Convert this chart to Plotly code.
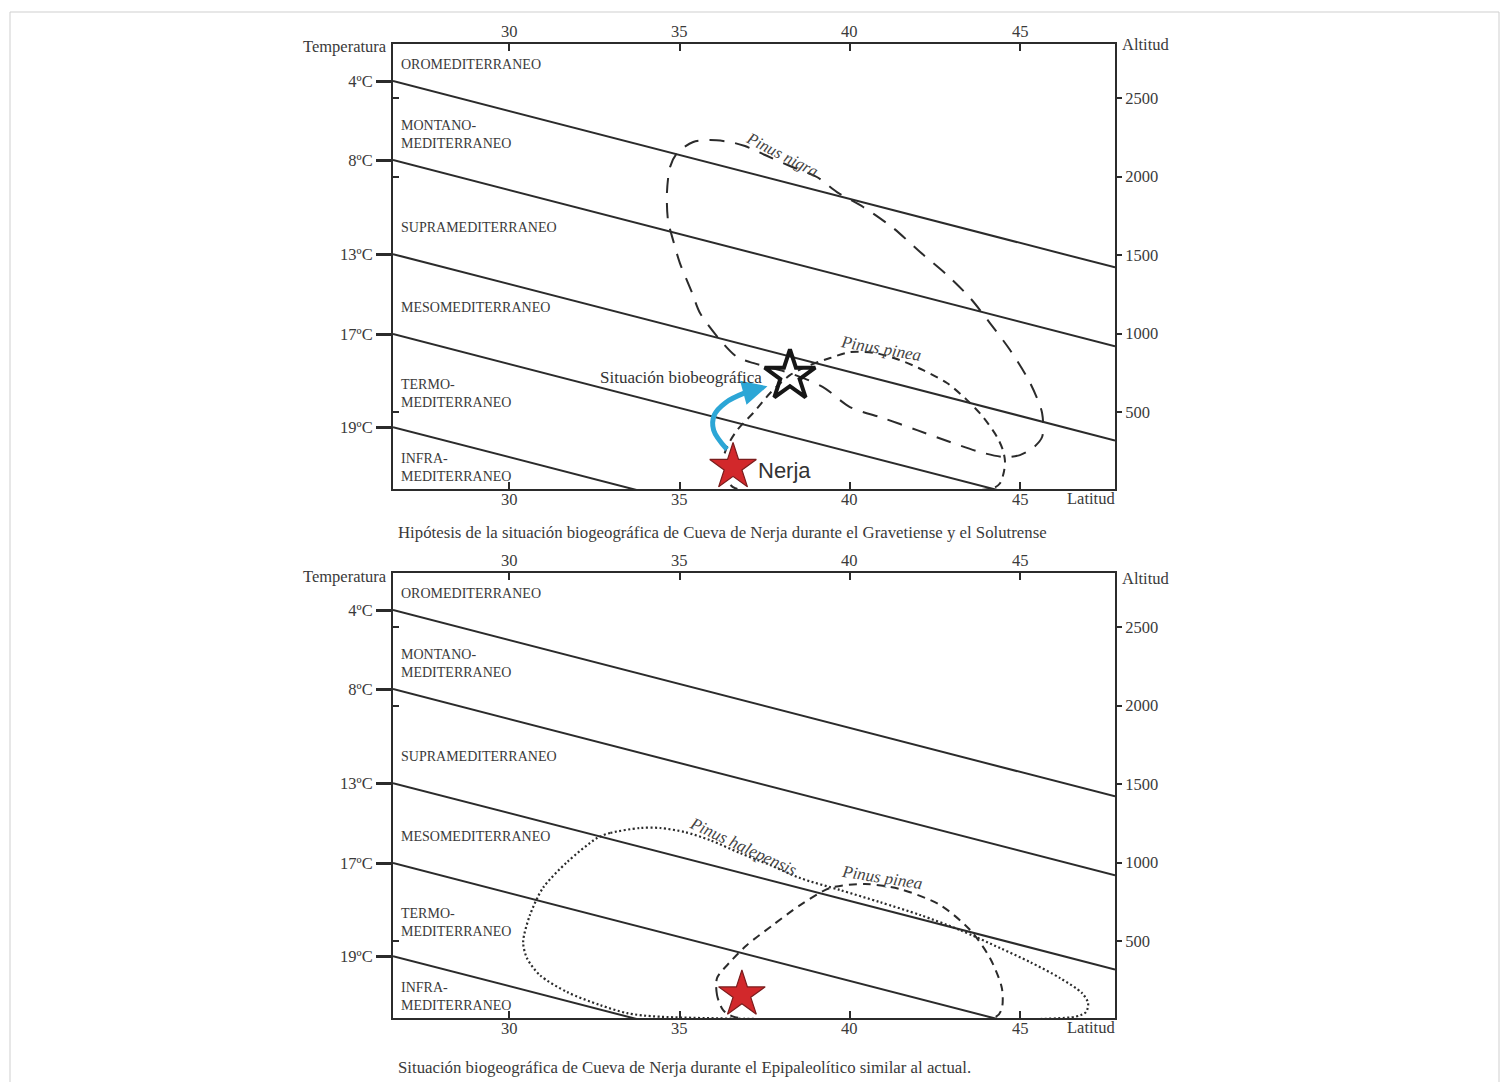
import plotly.graph_objects as go

# ---------------- data ----------------
temp_labels = ["4ºC", "8ºC", "13ºC", "17ºC", "19ºC"]
boundary_alt_west = [2608, 2105, 1506, 997, 404]   # m, altitude of each boundary at the west edge
lapse_m_per_deg = 56.0                               # boundaries drop this much per degree of latitude
lat_range = [26.59, 47.78]
alt_range = [10, 2844]
lat_ticks = [30, 35, 40, 45]
alt_ticks = [500, 1000, 1500, 2000, 2500]
alt_minor_left = [500, 2000, 2500]

belt_names = ["OROMEDITERRANEO", "MONTANO-<br>MEDITERRANEO", "SUPRAMEDITERRANEO",
              "MESOMEDITERRANEO", "TERMO-<br>MEDITERRANEO", "INFRA-<br>MEDITERRANEO"]
belt_label_alt = [2716, 2270, 1678, 1169, 621, 150]

# Panel 1: Pinus nigra (long dashes)
nigra_lat = [34.66, 34.63, 34.72, 34.93, 35.40, 35.89, 36.48, 36.92, 37.51, 38.24, 39.03, 39.62,
             40.39, 41.27, 42.06, 42.85, 43.53, 44.11, 44.70, 45.29, 45.64, 45.64, 45.37, 44.99,
             44.55, 43.82, 42.94, 41.97, 40.97, 40.00, 39.21, 38.24, 37.07, 36.69, 36.19, 35.60,
             35.37, 35.01, 34.81, 34.66]
nigra_alt = [1723, 1895, 2060, 2150, 2220, 2232, 2220, 2194, 2137, 2067, 1997, 1901,
             1806, 1672, 1519, 1373, 1226, 1067, 895, 685, 494, 341, 271, 226,
             213, 245, 309, 385, 462, 532, 659, 748, 818, 850, 959, 1131,
             1258, 1449, 1595, 1723]

# Panel 1: Pinus pinea (short dashes)
pinea1_lat = [37.66, 37.16, 36.69, 36.39, 36.25, 36.39, 36.63, 44.20, 44.40, 44.52, 44.55, 44.49,
              44.32, 43.91, 43.44, 42.85, 42.15, 41.47, 40.74, 40.00, 39.42, 38.83, 38.24, 37.66]
pinea1_alt = [621, 494, 385, 277, 162, 67, 15, 15, 45, 120, 190, 258,
              341, 468, 576, 685, 767, 831, 876, 882, 844, 799, 735, 621]

# Panel 2: Pinus halepensis (dotted)
halep_lat = [33.84, 32.96, 32.58, 31.70, 30.99, 30.61, 30.41, 30.52, 30.90, 31.70, 32.67, 33.46,
             34.43, 46.61, 46.93, 46.99, 46.81, 46.17, 45.29, 44.41, 43.23, 42.06, 40.88, 39.71,
             38.54, 37.66, 36.78, 35.89, 35.16, 34.43, 33.84]
halep_alt = [1220, 1188, 1156, 1003, 838, 666, 494, 392, 283, 175, 92, 41,
             18, 18, 48, 105, 169, 264, 366, 455, 570, 666, 748, 825,
             901, 984, 1060, 1143, 1194, 1220, 1220]

# Panel 2: Pinus pinea (short dashes)
pinea2_lat = [36.28, 36.10, 36.10, 36.48, 36.98, 37.74, 38.54, 39.42, 40.44, 41.47, 42.65, 43.53,
              44.11, 44.46, 44.46, 44.29, 36.63, 36.28]
pinea2_alt = [60, 156, 264, 366, 475, 602, 729, 838, 863, 831, 729, 570,
              392, 200, 73, 18, 15, 60]

nerja1 = (36.57, 150)          # red star, panel 1
bio_star = (38.24, 730)        # hollow star, panel 1
nerja2 = (36.83, 160)          # red star, panel 2
arrow_lat = [36.39, 36.00, 36.02, 36.35, 36.95, 37.20]
arrow_alt = [262, 385, 481, 560, 625, 642]
arrow_tip = (37.58, 664)

captions = ["Hipótesis de la situación biogeográfica de Cueva de Nerja durante el Gravetiense y el Solutrense",
            "Situación biogeográfica de Cueva de Nerja durante el Epipaleolítico similar al actual."]

# ---------------- layout helpers ----------------
W, H, OFF = 1506, 1082, 0
def px(X):
    return (X - OFF) / W
def py(Y):
    return 1 - (Y - OFF) / H

SERIF = "Liberation Serif, Times New Roman, serif"
SANS = "Liberation Sans, Arial, sans-serif"
INK = "#2b2b2b"
TXT = "#3a3a3a"
FS = 16.5

fig = go.Figure()
annotations = []
panels = [
    dict(top=44, bottom=489, ids=["x", "x2", "y", "y2"], ax=["xaxis", "xaxis2", "yaxis", "yaxis2"]),
    dict(top=573, bottom=1018, ids=["x3", "x4", "y3", "y4"], ax=["xaxis3", "xaxis4", "yaxis3", "yaxis4"]),
]

axis_common = dict(showgrid=False, zeroline=False, showline=True, linecolor=INK, linewidth=2,
                   tickfont=dict(family=SERIF, size=FS, color=TXT), tickcolor=INK)

for pi, p in enumerate(panels):
    xd = [px(393), px(1115)]
    yd = [py(p["bottom"]), py(p["top"])]
    xid, x2id, yid, y2id = p["ids"]
    xa, x2a, ya, y2a = p["ax"]
    fig.layout[xa] = dict(domain=xd, range=lat_range, anchor=yid, side="bottom",
                          tickmode="array", tickvals=lat_ticks, ticks="inside", ticklen=7, tickwidth=2,
                          showticklabels=False, **axis_common)
    fig.layout[x2a] = dict(domain=xd, range=lat_range, anchor=yid, side="top", overlaying=xid,
                           tickmode="array", tickvals=lat_ticks, ticks="inside", ticklen=7, tickwidth=2,
                           showticklabels=False, **axis_common)
    fig.layout[ya] = dict(domain=yd, range=alt_range, anchor=xid, side="left",
                          tickmode="array", tickvals=boundary_alt_west, ticktext=temp_labels,
                          ticks="outside", ticklen=15, tickwidth=3,
                          minor=dict(tickmode="array", tickvals=alt_minor_left, ticks="inside",
                                     ticklen=6, tickwidth=1.5, tickcolor=INK),
                          **axis_common)
    fig.layout[y2a] = dict(domain=yd, range=alt_range, anchor=xid, side="right", overlaying=yid,
                           tickmode="array", tickvals=alt_ticks, ticks="outside", ticklen=5, tickwidth=1.5,
                           **axis_common)

    # invisible traces so that the overlay axes get drawn
    fig.add_trace(go.Scatter(x=lat_range, y=alt_range, xaxis=x2id, yaxis=yid, mode="markers",
                             marker=dict(opacity=0), hoverinfo="skip", showlegend=False))
    fig.add_trace(go.Scatter(x=lat_range, y=alt_range, xaxis=xid, yaxis=y2id, mode="markers",
                             marker=dict(opacity=0), hoverinfo="skip", showlegend=False))

    xref, yref = xid, yid
    # latitude tick labels (bottom, right under the axis, and top)
    for lt in lat_ticks:
        annotations.append(dict(x=lt, y=0, xref=xref, yref=f"{yid} domain", text=str(lt), showarrow=False,
                                xanchor="center", yanchor="top", yshift=1,
                                font=dict(family=SERIF, size=FS, color=TXT)))
        annotations.append(dict(x=lt, y=1, xref=xref, yref=f"{yid} domain", text=str(lt), showarrow=False,
                                xanchor="center", yanchor="bottom", yshift=1,
                                font=dict(family=SERIF, size=FS, color=TXT)))
    # belt boundaries
    for a0 in boundary_alt_west:
        lats = [lat_range[0], lat_range[1]]
        alts = [a0 - lapse_m_per_deg * (l - lat_range[0]) for l in lats]
        fig.add_trace(go.Scatter(x=lats, y=alts, mode="lines", xaxis=xref, yaxis=yref,
                                 line=dict(color=INK, width=2), hoverinfo="skip", showlegend=False))
    # belt labels
    for name, a in zip(belt_names, belt_label_alt):
        annotations.append(dict(x=lat_range[0], y=a, xref=xref, yref=yref, text=name, showarrow=False,
                                xanchor="left", yanchor="middle", align="left", xshift=6,
                                font=dict(family=SERIF, size=14, color=TXT)))
    # axis titles
    t, b = p["top"], p["bottom"]
    annotations.append(dict(x=px(389), y=py(t + 3), xref="paper", yref="paper", text="Temperatura",
                            showarrow=False, xanchor="right", yanchor="middle",
                            font=dict(family=SERIF, size=FS, color=TXT)))
    annotations.append(dict(x=px(1120), y=py(t + 1 + (4 if pi else 0)), xref="paper", yref="paper", text="Altitud",
                            showarrow=False, xanchor="left", yanchor="middle",
                            font=dict(family=SERIF, size=FS, color=TXT)))
    annotations.append(dict(x=px(1117), y=py(b + 9), xref="paper", yref="paper", text="Latitud",
                            showarrow=False, xanchor="right", yanchor="middle",
                            font=dict(family=SERIF, size=FS, color=TXT)))
    annotations.append(dict(x=px(396), y=py(b + 43 if pi == 0 else b + 49), xref="paper", yref="paper",
                            text=captions[pi], showarrow=False, xanchor="left", yanchor="middle",
                            font=dict(family=SERIF, size=16.8, color=TXT)))

# ----- panel 1 content -----
fig.add_trace(go.Scatter(x=nigra_lat, y=nigra_alt, mode="lines", xaxis="x", yaxis="y",
                         line=dict(color=INK, width=2, dash="15px,11px", shape="spline", smoothing=0.8),
                         hoverinfo="skip", showlegend=False))
fig.add_trace(go.Scatter(x=pinea1_lat, y=pinea1_alt, mode="lines", xaxis="x", yaxis="y",
                         line=dict(color=INK, width=2, dash="8px,6px", shape="spline", smoothing=0.8),
                         hoverinfo="skip", showlegend=False))
fig.add_trace(go.Scatter(x=arrow_lat, y=arrow_alt, mode="lines", xaxis="x", yaxis="y",
                         line=dict(color="#2ca6d6", width=5, shape="spline", smoothing=1.0),
                         hoverinfo="skip", showlegend=False))
annotations.append(dict(x=arrow_tip[0], y=arrow_tip[1], ax=arrow_lat[-1], ay=arrow_alt[-1],
                        xref="x", yref="y", axref="x", ayref="y", text="", showarrow=True,
                        arrowhead=2, arrowsize=1.0, arrowwidth=5, arrowcolor="#2ca6d6"))
fig.add_trace(go.Scatter(x=[bio_star[0]], y=[bio_star[1]], mode="markers", xaxis="x", yaxis="y",
                         marker=dict(symbol="star-open", size=38, color="#161616",
                                     line=dict(width=4, color="#161616")),
                         hoverinfo="skip", showlegend=False))
fig.add_trace(go.Scatter(x=[nerja1[0]], y=[nerja1[1]], mode="markers", xaxis="x", yaxis="y",
                         marker=dict(symbol="star", size=35, color="#d2282b",
                                     line=dict(width=1.2, color="#7a1c1c")),
                         hoverinfo="skip", showlegend=False))
annotations.append(dict(x=nerja1[0], y=nerja1[1], xref="x", yref="y", text="Nerja", showarrow=False,
                        xanchor="left", yanchor="middle", xshift=23, yshift=-3,
                        font=dict(family=SANS, size=22, color="#333333")))
annotations.append(dict(x=bio_star[0], y=bio_star[1], xref="x", yref="y", text="Situación biobeográfica",
                        showarrow=False, xanchor="right", yanchor="middle", xshift=-26, yshift=-2,
                        font=dict(family=SERIF, size=17, color="#333333")))
annotations.append(dict(x=38.01, y=2140, xref="x", yref="y", text="<i>Pinus nigra</i>", showarrow=False,
                        textangle=27, font=dict(family=SERIF, size=16.5, color="#444444")))
annotations.append(dict(x=40.90, y=905, xref="x", yref="y", text="<i>Pinus pinea</i>", showarrow=False,
                        textangle=10, font=dict(family=SERIF, size=17, color="#444444")))

# ----- panel 2 content -----
fig.add_trace(go.Scatter(x=halep_lat, y=halep_alt, mode="lines", xaxis="x3", yaxis="y3",
                         line=dict(color=INK, width=2.2, dash="2px,2.5px", shape="spline", smoothing=0.8),
                         hoverinfo="skip", showlegend=False))
fig.add_trace(go.Scatter(x=pinea2_lat, y=pinea2_alt, mode="lines", xaxis="x3", yaxis="y3",
                         line=dict(color=INK, width=2, dash="8px,6px", shape="spline", smoothing=0.8),
                         hoverinfo="skip", showlegend=False))
fig.add_trace(go.Scatter(x=[nerja2[0]], y=[nerja2[1]], mode="markers", xaxis="x3", yaxis="y3",
                         marker=dict(symbol="star", size=35, color="#d2282b",
                                     line=dict(width=1.2, color="#7a1c1c")),
                         hoverinfo="skip", showlegend=False))
annotations.append(dict(x=36.86, y=1100, xref="x3", yref="y3", text="<i>Pinus halepensis</i>", showarrow=False,
                        textangle=25, font=dict(family=SERIF, size=17, color="#444444")))
annotations.append(dict(x=40.94, y=905, xref="x3", yref="y3", text="<i>Pinus pinea</i>", showarrow=False,
                        textangle=9, font=dict(family=SERIF, size=17, color="#444444")))

fig.update_layout(
    width=W, height=H, margin=dict(l=0, r=0, t=0, b=0),
    paper_bgcolor="white", plot_bgcolor="white",
    annotations=annotations,
    shapes=[dict(type="rect", xref="paper", yref="paper", x0=px(10), x1=px(1499), y0=py(1100), y1=py(12),
                 line=dict(color="#cfcfcf", width=1))],
)

fig.write_html("out.html", config={"displayModeBar": False},
               post_script="document.body.style.margin='0px';document.body.style.overflow='hidden';")
